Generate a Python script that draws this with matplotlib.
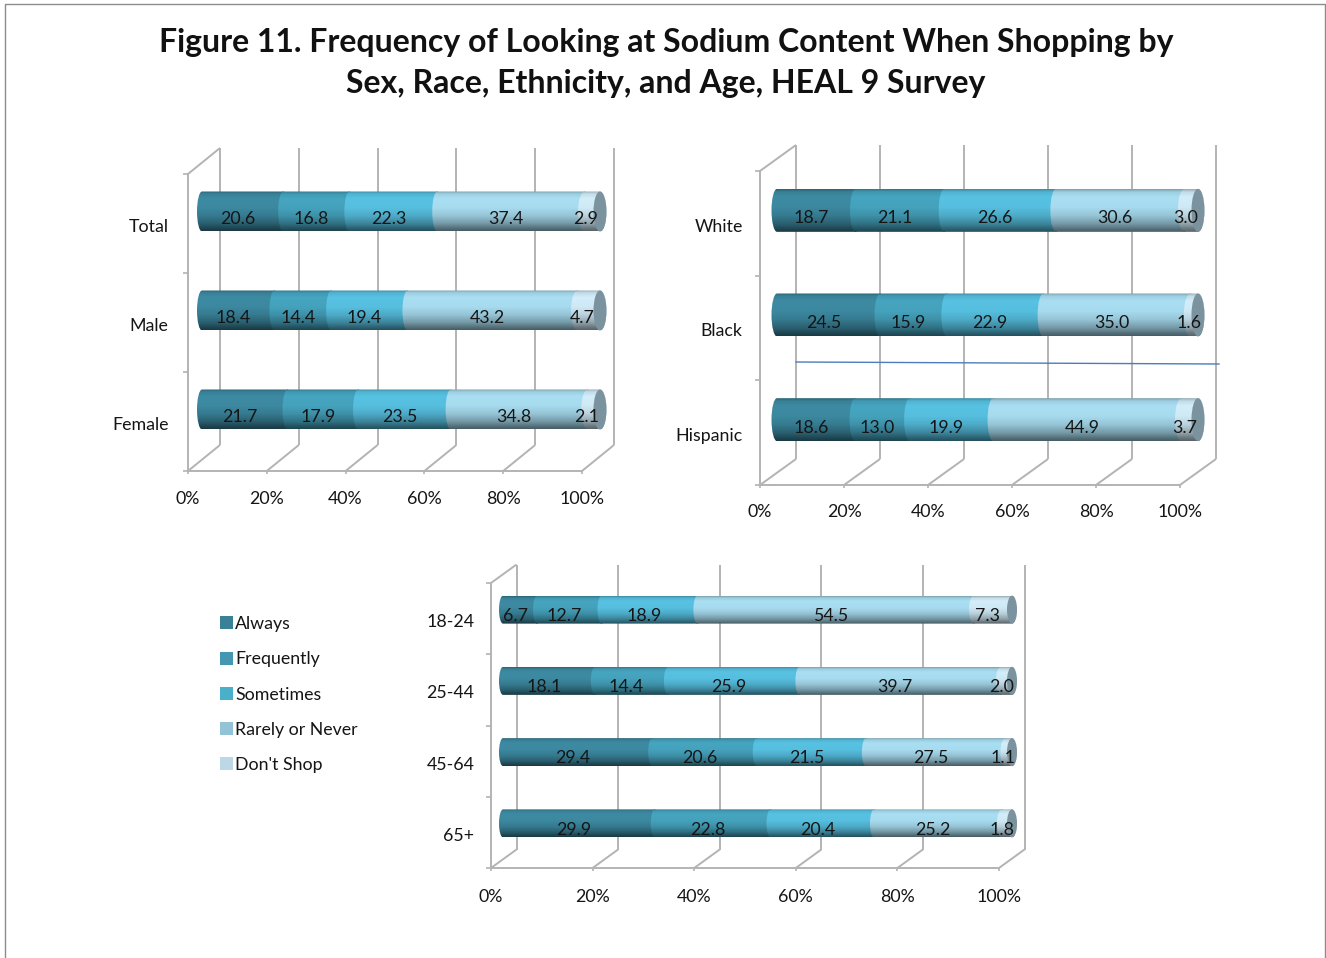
import numpy as np
import matplotlib
matplotlib.use("Agg")
import matplotlib.pyplot as plt
from matplotlib.path import Path
from matplotlib.patches import PathPatch, Patch
from matplotlib.lines import Line2D

plt.rcParams['font.family'] = ['Lato', 'DejaVu Sans']

series_names = ["Always", "Frequently", "Sometimes", "Rarely or Never", "Don't Shop"]
title = "Figure 11. Frequency of Looking at Sodium Content When Shopping by\nSex, Race, Ethnicity, and Age, HEAL 9 Survey"
xticks = [0, 20, 40, 60, 80, 100]

sex_cats = ["Total", "Male", "Female"]
sex_vals = [[20.6, 16.8, 22.3, 37.4, 2.9],
            [18.4, 14.4, 19.4, 43.2, 4.7],
            [21.7, 17.9, 23.5, 34.8, 2.1]]
race_cats = ["White", "Black", "Hispanic"]
race_vals = [[18.7, 21.1, 26.6, 30.6, 3.0],
             [24.5, 15.9, 22.9, 35.0, 1.6],
             [18.6, 13.0, 19.9, 44.9, 3.7]]
age_cats = ["18-24", "25-44", "45-64", "65+"]
age_vals = [[6.7, 12.7, 18.9, 54.5, 7.3],
            [18.1, 14.4, 25.9, 39.7, 2.0],
            [29.4, 20.6, 21.5, 27.5, 1.1],
            [29.9, 22.8, 20.4, 25.2, 1.8]]

bar_base = ["#3d8ba3", "#46a5c0", "#58c2e3", "#aadff3", "#d3eefa"]
legend_cols = ["#3a8096", "#4497b0", "#4aafc8", "#93c3d6", "#bcd8e6"]
cap_col = "#7b939e"
grid_col = "#b3b3b3"
text_col = "#151515"
W, H = 1326, 958
fig = plt.figure(figsize=(W / 100, H / 100), dpi=100, facecolor="white")


def box(x0, x1, ytop, ybot):
    return [x0 / W, 1 - ybot / H, (x1 - x0) / W, (ybot - ytop) / H]


ts = np.array([0, .06, .18, .42, .62, .82, .95, 1])
ms = np.array([.72, .92, 1.0, .98, .88, .68, .48, .42])


def grad(col):
    rgb = np.array(matplotlib.colors.to_rgb(col))
    t = np.linspace(0, 1, 64)
    m = np.interp(t, ts, ms)
    return np.clip(m[:, None, None] * rgb[None, None, :], 0, 1)


def capsule(l, r, yc, hh, a):
    k = 0.5523
    v = [(l, yc - hh),
         (r, yc - hh),
         (r + a * k, yc - hh), (r + a, yc - hh * k), (r + a, yc),
         (r + a, yc + hh * k), (r + a * k, yc + hh), (r, yc + hh),
         (l, yc + hh),
         (l - a * k, yc + hh), (l - a, yc + hh * k), (l - a, yc),
         (l - a, yc - hh * k), (l - a * k, yc - hh), (l, yc - hh),
         (l, yc - hh)]
    c = [Path.MOVETO, Path.LINETO] + [Path.CURVE4] * 6 + [Path.LINETO] + [Path.CURVE4] * 6 + [Path.CLOSEPOLY]
    return Path(v, c)


def panel(cats, vals, x0, x1, ytop, ybot, back, bar_off, bar_h, a_l, a_r, lab_off, fs=12.8, cat_off=2, xpad=12.5,
          cat_pad=14, ext=0):
    n = len(cats)
    ax = fig.add_axes(box(x0, x1, ytop, ybot))
    ax.set_xlim(0, 100)
    ax.set_ylim(n, 0)
    ax.patch.set_alpha(0)
    sx = 100 / (x1 - x0)
    sy = n / (ybot - ytop)
    bdx, bdy = back[0] * sx, back[1] * sy
    for s in ["top", "right"]:
        ax.spines[s].set_visible(False)
    for s in ["left", "bottom"]:
        ax.spines[s].set_color(grid_col)
        ax.spines[s].set_linewidth(1.4)
    gk = dict(color=grid_col, lw=1.4, clip_on=False, zorder=1, solid_capstyle="butt")
    for x in xticks:
        ax.plot([x, x + bdx], [n, n - bdy], **gk)
        ax.plot([x + bdx, x + bdx], [n - bdy, -bdy], **gk)
    ax.plot([0, bdx], [0, -bdy], **gk)
    ax.set_xticks(xticks)
    ax.set_xticklabels([f"{x}%" for x in xticks], fontsize=fs, color=text_col)
    ax.tick_params(axis="x", length=2, width=1.2, color=grid_col, pad=xpad)
    ax.set_yticks(np.arange(n + 1))
    ax.set_yticklabels([])
    ax.tick_params(axis="y", which="major", length=3.5, width=1.2, color=grid_col)
    ax.set_yticks(np.arange(n) + 0.5, minor=True)
    ax.set_yticklabels(cats, minor=True, fontsize=fs, color=text_col)
    ax.tick_params(axis="y", which="minor", length=0, pad=cat_pad)
    for lab in ax.get_yticklabels(minor=True):
        lab.set_transform(lab.get_transform() + matplotlib.transforms.Affine2D().translate(0, -cat_off))

    bx = fig.add_axes(box(x0 + bar_off[0], x1 + bar_off[0], ytop + bar_off[1], ybot + bar_off[1]))
    bx.axis("off")
    bx.patch.set_alpha(0)
    hh = bar_h / 2 * sy
    al, ar = a_l * sx, a_r * sx
    end = ext * sx
    for i, row in enumerate(vals):
        yc = i + 0.5
        tot = sum(row)
        left = 0.0
        for j, v in enumerate(row):
            w = v / tot * 100
            right = left + w + (end if j == len(row) - 1 else 0)
            p = PathPatch(capsule(left, right, yc, hh, al if j < 4 else ar), transform=bx.transData,
                          fc="none", ec="none")
            im = bx.imshow(grad(bar_base[j]), extent=(left - 2 * al, right + 2 * ar, yc + hh, yc - hh),
                           aspect="auto", zorder=2 + j * .1, interpolation="bilinear")
            im.set_clip_box(fig.bbox)
            im.set_clip_path(p)
            bx.annotate(f"{v:.1f}", (left + w / 2, yc), xytext=(-3.5, -lab_off), textcoords="offset points",
                        ha="center", va="center", fontsize=fs, color=text_col, zorder=5, annotation_clip=False)
            left += w
        cap = PathPatch(capsule(100 + end, 100 + end, yc, hh, ar), transform=bx.transData, fc=cap_col, ec="none",
                        zorder=3, clip_on=False)
        bx.add_patch(cap)
    bx.set_xlim(0, 100)
    bx.set_ylim(n, 0)
    return ax


panel(sex_cats, sex_vals, 188, 582, 174, 471, (32, 26), (14, -12), 40, 5, 6.5, 5.6, cat_pad=14, ext=4)
panel(race_cats, race_vals, 760, 1180, 171, 485, (36, 26), (17, -13), 43, 5.5, 6.5, 5.8, xpad=11.5, cat_pad=12.5,
      ext=1)
panel(age_cats, age_vals, 491, 999, 583, 868, (25.5, 18.5), (12, -9), 28, 4, 5, 4.5, xpad=13.3, cat_pad=12, ext=1)

fig.suptitle(title, x=666 / W, y=1 - 28 / H, va="top", ha="center", fontsize=23, fontweight="bold",
             color="#111111", linespacing=1.52)

handles = [Patch(fc=c, ec="none") for c in legend_cols]
fig.legend(handles, series_names, loc="upper left", bbox_to_anchor=(213 / W, 1 - 609 / H), frameon=False,
           fontsize=12.8, handlelength=0.72, handleheight=0.75, handletextpad=0.13, labelspacing=1.08,
           labelcolor=text_col, borderaxespad=0, borderpad=0.4)

# page frame and the stray line in the middle panel
fig.add_artist(Line2D([5 / W, 5 / W, 1325 / W, 1325 / W], [0, 1 - 3.5 / H, 1 - 3.5 / H, 0], color="#8c8c8c", lw=1))
fig.add_artist(Line2D([796 / W, 1219 / W], [1 - 362 / H, 1 - 364 / H], color="#4a7ebb", lw=1))

fig.savefig("out.png", dpi=100)
